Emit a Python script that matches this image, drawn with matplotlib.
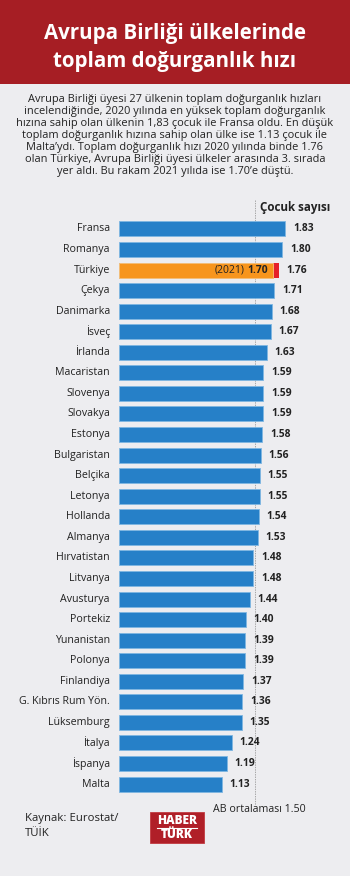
import matplotlib
matplotlib.use('Agg')
import matplotlib.pyplot as plt
from matplotlib.patches import Rectangle

plt.rcParams['font.family'] = ['Open Sans', 'DejaVu Sans']

W, H = 350, 876

countries = ['Fransa', 'Romanya', 'Türkiye', 'Çekya', 'Danimarka', 'İsveç', 'İrlanda',
             'Macaristan', 'Slovenya', 'Slovakya', 'Estonya', 'Bulgaristan', 'Belçika',
             'Letonya', 'Hollanda', 'Almanya', 'Hırvatistan', 'Litvanya', 'Avusturya',
             'Portekiz', 'Yunanistan', 'Polonya', 'Finlandiya', 'G. Kıbrıs Rum Yön.',
             'Lüksemburg', 'İtalya', 'İspanya', 'Malta']
rates = [1.83, 1.80, 1.76, 1.71, 1.68, 1.67, 1.63, 1.59, 1.59, 1.59, 1.58, 1.56, 1.55,
         1.55, 1.54, 1.53, 1.48, 1.48, 1.44, 1.40, 1.39, 1.39, 1.37, 1.36, 1.35, 1.24,
         1.19, 1.13]
turkey_2021 = 1.70
eu_average = 1.50

title_lines = ['Avrupa Birliği ülkelerinde', 'toplam doğurganlık hızı']
intro_lines = [
    'Avrupa Birliği üyesi 27 ülkenin toplam doğurganlık hızları',
    'incelendiğinde, 2020 yılında en yüksek toplam doğurganlık',
    'hızına sahip olan ülkenin 1,83 çocuk ile Fransa oldu. En düşük',
    'toplam doğurganlık hızına sahip olan ülke ise 1.13 çocuk ile',
    'Malta’ydı. Toplam doğurganlık hızı 2020 yılında binde 1.76',
    'olan Türkiye, Avrupa Birliği üyesi ülkeler arasında 3. sırada',
    'yer aldı. Bu rakam 2021 yılıda ise 1.70’e düştü.',
]

BG = '#ededf0'
HEADER = '#a61e24'
BLUE = '#2680c8'
ORANGE = '#f7951d'
RED = '#e5202a'
TEXT = '#222222'


def fx(x):
    return x / W


def fy(y):
    return 1 - y / H


fig = plt.figure(figsize=(W / 100, H / 100), dpi=100, facecolor=BG)

# header band
fig.patches.append(Rectangle((0, fy(84)), 1, 84 / H, transform=fig.transFigure,
                             facecolor=HEADER, edgecolor='none', zorder=0))
fig.text(0.5, fy(39), title_lines[0], color='white', fontsize=14.8, fontweight='bold',
         ha='center', va='baseline')
fig.text(0.5, fy(66.5), title_lines[1], color='white', fontsize=14.8, fontweight='bold',
         ha='center', va='baseline')

for i, line in enumerate(intro_lines):
    fig.text(0.5, fy(99.5 + 12 * i), line, color=TEXT, fontsize=7.9,
             ha='center', va='center')

# bar chart
top, bottom = 218.7, 794.3
left = 119
xmax = 2.5
px_per_unit = 90.8
ax = fig.add_axes([fx(left), fy(bottom), fx(xmax * px_per_unit), (bottom - top) / H])
ax.set_facecolor('none')
ax.set_xlim(0, xmax)
ax.set_ylim(len(countries) - 0.5, -0.5)

ypos = list(range(len(countries)))
colors = [BLUE] * len(countries)
ti = countries.index('Türkiye')
colors[ti] = ORANGE
widths = list(rates)
widths[ti] = turkey_2021
ax.barh(ypos, widths, height=0.73, color=colors, edgecolor='#7fb6e2', linewidth=0.6, zorder=2)
ax.barh(ti, rates[ti] - turkey_2021, left=turkey_2021, height=0.73, color=RED,
        edgecolor='none', zorder=2)
ax.barh(ti, turkey_2021, height=0.73, color=ORANGE, edgecolor='#fbc27a', linewidth=0.6, zorder=2)

for y, v in zip(ypos, rates):
    ax.text(v + 0.085, y, f'{v:.2f}', fontsize=7.4, fontweight='bold', color=TEXT,
            ha='left', va='center')
    ax.text(-0.1, y, countries[y], fontsize=7.7, color=TEXT, ha='right', va='center')

# 2021 value inside the Türkiye bar
ax.text(1.64, ti, f'{turkey_2021:.2f}', fontsize=7.4, fontweight='bold', color=TEXT,
        ha='right', va='center', zorder=3)
ax.text(1.38, ti, '(2021)', fontsize=7.5, color=TEXT,
        ha='right', va='center', zorder=3)

ax.plot([eu_average, eu_average], [-1.4, len(countries) + 0.0], color='#8a8a8a',
        linestyle=(0, (2, 1.5)), linewidth=0.5, clip_on=False, zorder=1)
ax.text(eu_average + 0.05, len(countries) + 0.25, f'AB ortalaması {eu_average:.2f}',
        fontsize=7.7, color=TEXT, ha='center', va='center')
ax.text(1.55, -1.05, 'Çocuk sayısı', fontsize=8.4, fontweight='bold', color=TEXT,
        ha='left', va='center')

ax.axis('off')

# source and logo
fig.text(fx(25), fy(818), 'Kaynak: Eurostat/', fontsize=8.2, color=TEXT, va='center')
fig.text(fx(25), fy(834), 'TÜİK', fontsize=8.2, color=TEXT, va='center')

fig.patches.append(Rectangle((fx(150), fy(843)), fx(54), 31 / H, transform=fig.transFigure,
                             facecolor='#b01f28', edgecolor='#c23a40', linewidth=0.6))
fig.text(fx(177), fy(820.5), 'HABER', fontsize=8.6, fontweight='heavy', color='white',
         ha='center', va='center')
fig.lines.append(plt.Line2D([fx(157), fx(197)], [fy(827.5), fy(827.5)],
                            transform=fig.transFigure, color='white', linewidth=0.8))
fig.text(fx(177), fy(834.5), 'TÜRK', fontsize=8.6, fontweight='heavy', color='white',
         ha='center', va='center')

fig.savefig('out.png', dpi=100, facecolor=BG)
